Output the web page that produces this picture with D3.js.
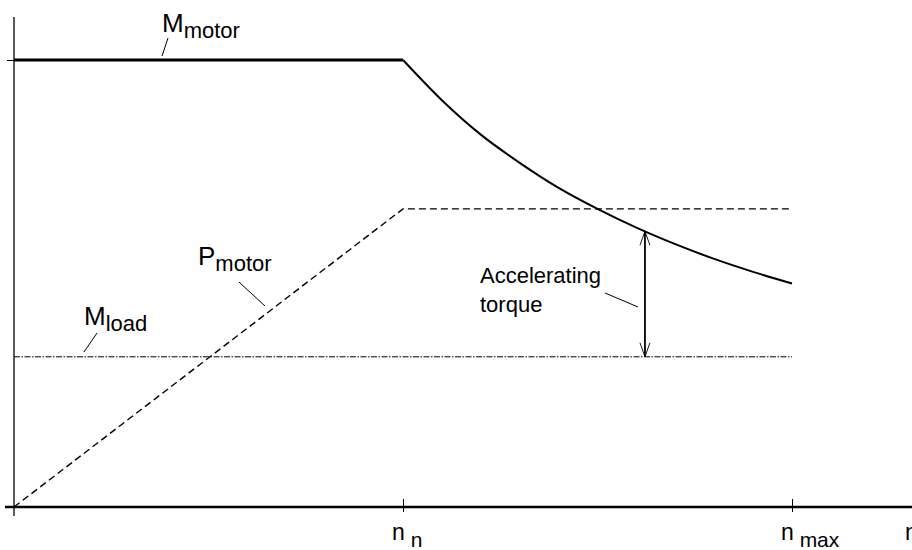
<!DOCTYPE html>
<html><head><meta charset="utf-8">
<script src="https://cdn.jsdelivr.net/npm/d3@7"></script>
<style>
body{margin:0;background:#fff;}
text{font-family:"Liberation Sans",Arial,sans-serif;fill:#000;}
</style></head>
<body><svg id="c" width="912" height="550"></svg>
<script>
// speed (relative to nominal n_n = 1)
const speedTicks = [1, 2];
const speedTickLabels = [["n", " n"], ["n", " max"]];
// motor torque curve (relative)
const motorSpeed  = [0, 1, 1.1, 1.2, 1.3, 1.4, 1.5, 1.6, 1.7, 1.8, 1.9, 2.0];
const motorTorque = [1, 1, 0.91, 0.833, 0.77, 0.714, 0.667, 0.625, 0.588, 0.555, 0.526, 0.5];
// motor power (relative)
const powerSpeed = [0, 1, 2];
const powerValue = [0, 0.667, 0.667];
// load torque (constant)
const loadSpeed = [0, 2];
const loadTorque = [0.336, 0.336];
// accelerating torque arrow position
const accelSpeed = 1.622;

const svg = d3.select("#c");
const x = d3.scaleLinear().domain([0, 1]).range([14, 403]);
const y = d3.scaleLinear().domain([0, 1]).range([507, 60]);

// axes
const xAxis = d3.axisBottom(x).tickValues(speedTicks).tickSize(8).tickFormat("");
const gx = svg.append("g").attr("transform", "translate(0,499)").call(xAxis);
gx.select(".domain").remove();
gx.selectAll(".tick line").attr("stroke", "#000").attr("stroke-width", 1).attr("y2", 13);
svg.append("line").attr("x1", 5).attr("x2", 912).attr("y1", y(0)).attr("y2", y(0))
  .attr("stroke", "#000").attr("stroke-width", 2.5);
svg.append("line").attr("x1", x(0)).attr("x2", x(0)).attr("y1", y(1.096)).attr("y2", 516)
  .attr("stroke", "#000").attr("stroke-width", 1.3);
const yAxis = d3.axisLeft(y).tickValues([1]).tickSize(7).tickFormat("");
const gy = svg.append("g").attr("transform", `translate(${x(0)},0)`).call(yAxis);
gy.select(".domain").remove();
gy.selectAll(".tick line").attr("stroke", "#000");

// tick labels
speedTicks.forEach((v, i) => {
  const t = svg.append("text").attr("x", x(v) - 11).attr("y", 540).attr("font-size", 23);
  t.append("tspan").text(speedTickLabels[i][0]);
  t.append("tspan").attr("dy", 7).attr("font-size", 21).text(speedTickLabels[i][1]);
});
svg.append("text").attr("x", 905).attr("y", 540).attr("font-size", 23).text("n");

const line = d3.line().x(d => x(d[0])).y(d => y(d[1]));
const smooth = d3.line().x(d => x(d[0])).y(d => y(d[1])).curve(d3.curveMonotoneX);

// load torque (dash-dot)
svg.append("path").datum(loadSpeed.map((s, i) => [s, loadTorque[i]]))
  .attr("d", line).attr("fill", "none").attr("stroke", "#000").attr("stroke-width", 1)
  .attr("stroke-dasharray", "6,1.5,1.5,1.5");

// power (dashed)
svg.append("path").datum(powerSpeed.map((s, i) => [s, powerValue[i]]))
  .attr("d", line).attr("fill", "none").attr("stroke", "#000").attr("stroke-width", 1.4)
  .attr("stroke-dasharray", "7,4");

// motor torque
svg.append("path").datum(motorSpeed.slice(0, 2).map((s, i) => [s, motorTorque[i]]))
  .attr("d", line).attr("fill", "none").attr("stroke", "#000").attr("stroke-width", 3);
svg.append("path").datum(motorSpeed.slice(1).map((s, i) => [s, motorTorque[i + 1]]))
  .attr("d", smooth).attr("fill", "none").attr("stroke", "#000").attr("stroke-width", 2);

// accelerating torque arrow
const iA = motorSpeed.findIndex(s => s > accelSpeed);
const tA = motorTorque[iA - 1] + (motorTorque[iA] - motorTorque[iA - 1]) *
  (accelSpeed - motorSpeed[iA - 1]) / (motorSpeed[iA] - motorSpeed[iA - 1]);
const ax = x(accelSpeed), ay1 = y(tA), ay2 = y(loadTorque[0]);
svg.append("line").attr("x1", ax).attr("x2", ax).attr("y1", ay1).attr("y2", ay2)
  .attr("stroke", "#000").attr("stroke-width", 1.8);
svg.append("path").attr("d", `M${ax-5},${ay1+14}L${ax},${ay1}L${ax+5},${ay1+14}`)
  .attr("fill", "none").attr("stroke", "#000").attr("stroke-width", 0.9);
svg.append("path").attr("d", `M${ax-5},${ay2-14}L${ax},${ay2}L${ax+5},${ay2-14}`)
  .attr("fill", "none").attr("stroke", "#000").attr("stroke-width", 0.9);

// labels with subscripts
function subLabel(px, py, main, sub) {
  const t = svg.append("text").attr("x", px).attr("y", py).attr("font-size", 26);
  t.append("tspan").text(main);
  t.append("tspan").attr("dy", 6).attr("font-size", 22).text(sub);
}
subLabel(162, 32, "M", "motor");
subLabel(198, 265, "P", "motor");
subLabel(84, 325, "M", "load");
svg.append("text").attr("x", 480).attr("y", 283).attr("font-size", 22).text("Accelerating");
svg.append("text").attr("x", 480).attr("y", 312).attr("font-size", 22).text("torque");

// leader lines
const leaders = [[168, 38, 162, 56], [239, 282, 265, 306], [97, 333, 84, 352], [605, 293, 638, 307]];
svg.selectAll("line.leader").data(leaders).enter().append("line").attr("class", "leader")
  .attr("x1", d => d[0]).attr("y1", d => d[1]).attr("x2", d => d[2]).attr("y2", d => d[3])
  .attr("stroke", "#000").attr("stroke-width", 1);
</script></body></html>
